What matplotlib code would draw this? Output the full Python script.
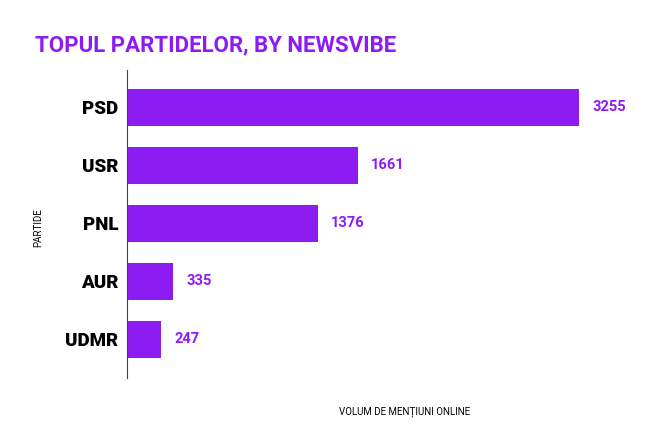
import matplotlib as mpl
mpl.use('Agg')
import matplotlib.pyplot as plt

plt.rcParams['font.family'] = 'Roboto'

parties = ["PSD", "USR", "PNL", "AUR", "UDMR"]
mentions = [3255, 1661, 1376, 335, 247]

purple = '#8c1cf2'

fig = plt.figure(figsize=(6.68, 4.30), dpi=100)
ax = fig.add_axes([0.19, 0.121, 0.768, 0.716])

pos = list(range(len(parties)))
ax.barh(pos, mentions, height=0.64, color=purple)
for y, v in zip(pos, mentions):
    ax.text(v + 95, y, str(v), va='center', ha='left', color=purple,
            fontsize=10.5, fontweight='bold')

ax.set_yticks(pos)
ax.set_yticklabels(parties, fontsize=13.5, fontweight='heavy')
ax.tick_params(axis='y', length=0, pad=6)
ax.set_xticks([])
ax.set_xlim(0, 3694)
ax.set_ylim(4.67, -0.64)
for s in ['top', 'right', 'bottom']:
    ax.spines[s].set_visible(False)
ax.spines['left'].set_color('#444444')

fig.text(0.052, 0.895, "TOPUL PARTIDELOR, BY NEWSVIBE", color=purple,
         fontsize=16, fontweight='bold', va='center')
fig.text(0.605, 0.043, "VOLUM DE MENȚIUNI ONLINE", fontsize=7, ha='center', va='center')
fig.text(0.057, 0.47, "PARTIDE", fontsize=7, rotation=90, ha='center', va='center')

fig.savefig("out.png", dpi=100)
